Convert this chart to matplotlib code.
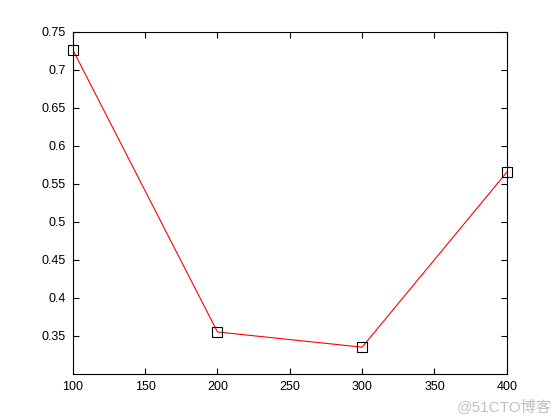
import matplotlib
matplotlib.use('Agg')
from matplotlib import pyplot as plt

# data
x_vals = [100, 200, 300, 400]
y_vals = [0.726, 0.355, 0.335, 0.565]

x_ticks = [100, 150, 200, 250, 300, 350, 400]
y_ticks = [0.35, 0.4, 0.45, 0.5, 0.55, 0.6, 0.65, 0.7, 0.75]

plt.rcParams['font.family'] = ['Liberation Sans', 'Noto Sans CJK SC', 'DejaVu Sans']

fig = plt.figure(figsize=(5.6, 4.2), dpi=100)
ax = fig.add_axes([0.13, 0.11, 0.775, 0.815])

ax.plot(x_vals, y_vals, color='red', linewidth=0.8)
ax.plot(x_vals, y_vals, linestyle='none', marker='s', markersize=6.5,
        markerfacecolor='none', markeredgecolor='black', markeredgewidth=0.8, clip_on=False)

ax.set_xlim(100, 400)
ax.set_ylim(0.3, 0.75)
ax.set_xticks(x_ticks)
ax.set_yticks(y_ticks)
ax.set_xticklabels([str(t) for t in x_ticks])
ax.set_yticklabels(['{:g}'.format(t) for t in y_ticks])

# MATLAB-ish: ticks inward on all four sides
ax.tick_params(direction='in', top=True, right=True, length=4, width=0.8, labelsize=9, pad=5)
for s in ax.spines.values():
    s.set_linewidth(0.8)

# watermark
fig.text(0.985, 0.015, '@51CTO博客', ha='right', va='bottom', fontsize=11, color='#c0c0c0')

fig.savefig('out.png', dpi=100)
